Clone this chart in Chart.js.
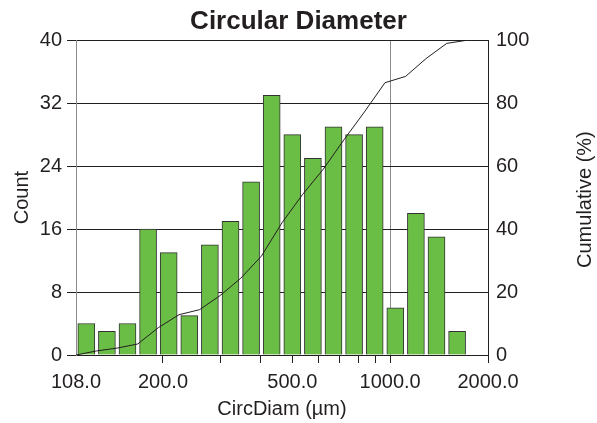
<!DOCTYPE html>
<html>
<head>
<meta charset="utf-8">
<script src="https://cdn.jsdelivr.net/npm/chart.js@4/dist/chart.umd.min.js"></script>
<style>
  html, body { margin: 0; padding: 0; background: #fff; }
  #wrap { width: 597px; height: 423px; }
</style>
</head>
<body>
<div id="wrap"><canvas id="chart" width="597" height="423"></canvas></div>
<script>
// 20 equal log-width bins, 108 .. 2000 µm (bin edges)
const binEdges = [108.0, 125.0, 144.6, 167.3, 193.6, 224.0, 259.2, 300.0, 347.1, 401.6,
  464.8, 537.8, 622.3, 720.0, 833.2, 964.1, 1115.6, 1290.9, 1493.7, 1728.4, 2000.0];
// particle count per bin (last bin empty, not drawn)
const counts = [4, 3, 4, 16, 13, 5, 14, 17, 22, 33, 28, 25, 29, 28, 29, 6, 18, 15, 3];
// cumulative % at each bin edge
const cumulativePct = [0, 1.3, 2.2, 3.5, 8.7, 12.8, 14.4, 18.9, 24.4, 31.4, 42.0,
  51.0, 59.0, 68.3, 77.2, 86.5, 88.5, 94.2, 99.0, 100, 100];
const xTickValues = [108, 200, 300, 400, 500, 600, 700, 800, 900, 1000, 2000];
const xTickLabels = [108, 200, 500, 1000, 2000];

const INK = "#231f20";
Chart.defaults.font.family = '"Liberation Sans", Arial, sans-serif';
Chart.defaults.color = INK;

// right axis title reads bottom-to-top, Chart.js would rotate it the other way
const rightTitle = {
  id: "rightTitle",
  afterDraw(chart) {
    const { ctx, chartArea } = chart;
    ctx.save();
    ctx.translate(chart.scales.y1.right - 12, (chartArea.top + chartArea.bottom) / 2 + 2);
    ctx.rotate(-Math.PI / 2);
    ctx.font = '20px "Liberation Sans", Arial, sans-serif';
    ctx.fillStyle = INK;
    ctx.textAlign = "center";
    ctx.textBaseline = "middle";
    ctx.fillText("Cumulative (%)", 0, 0);
    ctx.restore();
  },
};

const ctx = document.getElementById("chart").getContext("2d");
new Chart(ctx, {
  type: "bar",
  data: {
    datasets: [
      {
        type: "line",
        label: "Cumulative",
        data: binEdges.map((e, i) => ({ x: e, y: cumulativePct[i] })),
        yAxisID: "y1",
        borderColor: INK,
        borderWidth: 1,
        pointRadius: 0,
        tension: 0,
        order: 0,
      },
      {
        label: "Count",
        data: counts.map((c, i) => ({ x: Math.sqrt(binEdges[i] * binEdges[i + 1]), y: c })),
        yAxisID: "y",
        backgroundColor: "#6abd45",
        borderColor: "#333333",
        borderWidth: 1,
        barThickness: 17,
        order: 1,
      },
    ],
  },
  options: {
    responsive: false,
    animation: false,
    layout: { padding: 0 },
    plugins: {
      legend: { display: false },
      tooltip: { enabled: false },
      title: {
        display: true,
        text: "Circular Diameter",
        color: INK,
        font: { size: 26, weight: "bold" },
        padding: { top: 6, bottom: 3 },
      },
    },
    scales: {
      x: {
        type: "logarithmic",
        min: 108,
        max: 2000,
        offset: false,
        afterBuildTicks: (s) => { s.ticks = xTickValues.map((v) => ({ value: v })); },
        afterFit: (s) => { s.height = 68; },
        ticks: {
          autoSkip: false,
          maxRotation: 0,
          padding: 7,
          font: { size: 20 },
          color: INK,
          callback: (v) => (xTickLabels.includes(v) ? v.toFixed(1) : ""),
        },
        grid: {
          offset: false,
          tickLength: 8,
          color: (c) => (c.tick && c.tick.value === 1000 ? "#8c8c8c" : "transparent"),
          tickColor: (c) => (c.tick && c.tick.value === 108 ? "transparent" : INK),
        },
        border: { color: INK },
        title: { display: true, text: "CircDiam (µm)", font: { size: 20 }, color: INK, padding: { bottom: 2 } },
      },
      y: {
        position: "left",
        min: 0,
        max: 40,
        afterFit: (s) => { s.width = 76; },
        ticks: { stepSize: 8, padding: 5, font: { size: 20 }, color: INK },
        grid: { color: INK, tickColor: INK, tickLength: 9 },
        border: { color: "#8c8c8c" },
        title: { display: true, text: "Count", font: { size: 20 }, color: INK, padding: { top: 10 } },
      },
      y1: {
        position: "right",
        min: 0,
        max: 100,
        afterFit: (s) => { s.width = 109; },
        ticks: { stepSize: 20, padding: 8, font: { size: 20 }, color: INK },
        grid: { drawOnChartArea: false, drawTicks: false },
        border: { color: INK },
      },
    },
  },
  plugins: [rightTitle],
});
</script>
</body>
</html>
